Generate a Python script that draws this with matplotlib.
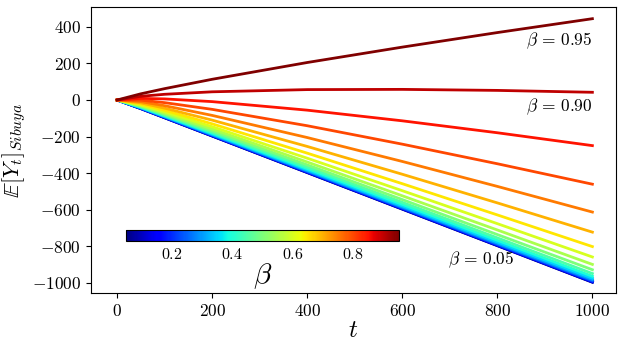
import numpy as np
import matplotlib
matplotlib.use("Agg")
import matplotlib.pyplot as plt
from matplotlib import cm
from matplotlib.colors import Normalize
from matplotlib.ticker import FuncFormatter

plt.rcParams['mathtext.fontset'] = 'cm'
plt.rcParams['font.family'] = 'serif'
plt.rcParams['font.serif'] = ['cmr10', 'DejaVu Serif']
plt.rcParams['axes.formatter.use_mathtext'] = True

t = [0, 50, 100, 200, 400, 600, 800, 1000]

betas = [0.05, 0.10, 0.15, 0.20, 0.25, 0.30, 0.35, 0.40, 0.45, 0.50,
         0.55, 0.60, 0.65, 0.70, 0.75, 0.80, 0.85, 0.90, 0.95]

# E[Y_t] for each beta, same order as betas
ey_005 = [0, -47.5, -97.4, -197.3, -397.2, -597.2, -797.1, -997.1]
ey_010 = [0, -46.9, -96.7, -196.4, -396.2, -596.0, -795.9, -995.8]
ey_015 = [0, -46.1, -95.7, -195.3, -394.7, -594.4, -794.2, -994.0]
ey_020 = [0, -45.2, -94.5, -193.7, -392.8, -592.2, -791.7, -991.3]
ey_025 = [0, -44.1, -93.0, -191.7, -390.1, -589.1, -788.3, -987.6]
ey_030 = [0, -42.8, -91.1, -189.1, -386.6, -584.8, -783.4, -982.3]
ey_035 = [0, -41.2, -88.8, -185.7, -381.7, -578.9, -776.7, -974.8]
ey_040 = [0, -39.2, -85.8, -181.2, -375.2, -570.9, -767.3, -964.3]
ey_045 = [0, -36.9, -82.1, -175.5, -366.5, -559.8, -754.3, -949.4]
ey_050 = [0, -34.0, -77.4, -168.1, -354.9, -544.7, -736.2, -928.6]
ey_055 = [0, -30.7, -71.7, -158.5, -339.3, -524.1, -711.1, -899.5]
ey_060 = [0, -26.6, -64.5, -146.2, -318.5, -496.1, -676.5, -858.8]
ey_065 = [0, -21.8, -55.7, -130.4, -290.8, -457.9, -628.7, -802.0]
ey_070 = [0, -16.0, -44.7, -110.2, -254.1, -406.2, -562.9, -722.9]
ey_075 = [0, -9.1, -31.2, -84.3, -205.4, -336.2, -472.7, -613.1]
ey_080 = [0, -0.9, -14.5, -51.2, -140.8, -241.6, -348.8, -460.6]
ey_085 = [0, 8.8, 6.0, -8.9, -55.6, -113.9, -179.2, -249.6]
ey_090 = [0, 20.3, 31.2, 44.8, 56.9, 58.1, 52.5, 42.2]
ey_095 = [0, 33.9, 62.1, 113.3, 205.1, 289.3, 368.9, 444.8]

curves = [ey_005, ey_010, ey_015, ey_020, ey_025, ey_030, ey_035, ey_040,
          ey_045, ey_050, ey_055, ey_060, ey_065, ey_070, ey_075, ey_080,
          ey_085, ey_090, ey_095]

fig = plt.figure(figsize=(6.23, 3.48), dpi=100)
ax = fig.add_axes([0.146, 0.158, 0.843, 0.822])

cmap = cm.jet
norm = Normalize(vmin=0.05, vmax=0.95)

for b, y in zip(betas, curves):
    ax.plot(t, y, color=cmap(norm(b)), lw=2)

ax.set_xlim(-55, 1050)
ax.set_ylim(-1056, 509)
ax.set_xticks([0, 200, 400, 600, 800, 1000])
ax.set_yticks([-1000, -800, -600, -400, -200, 0, 200, 400])
fmt = FuncFormatter(lambda v, p: r'$%d$' % v)
ax.xaxis.set_major_formatter(fmt)
ax.yaxis.set_major_formatter(fmt)
ax.tick_params(labelsize=12.5)

ax.set_xlabel(r'$t$', fontsize=18, labelpad=1)
ax.set_ylabel(r'$\mathbb{E}[Y_t]_{Sibuya}$', fontsize=16, labelpad=3)

ax.text(1000, 323, r'$\beta\,=\,0.95$', fontsize=12.5, ha='right', va='center')
ax.text(1000, -38, r'$\beta\,=\,0.90$', fontsize=12.5, ha='right', va='center')
ax.text(697, -876, r'$\beta\,=\,0.05$', fontsize=12.5, ha='left', va='center')

cax = fig.add_axes([0.202, 0.307, 0.438, 0.032])
sm = cm.ScalarMappable(norm=norm, cmap=cmap)
cb = fig.colorbar(sm, cax=cax, orientation='horizontal')
cb.set_ticks([0.2, 0.4, 0.6, 0.8])
cb.ax.xaxis.set_major_formatter(FuncFormatter(lambda v, p: r'$%.1f$' % v))
cb.ax.tick_params(labelsize=11.5, length=0, pad=4)
cb.set_label(r'$\beta$', fontsize=21, labelpad=0)

fig.savefig('out.png', dpi=100)
